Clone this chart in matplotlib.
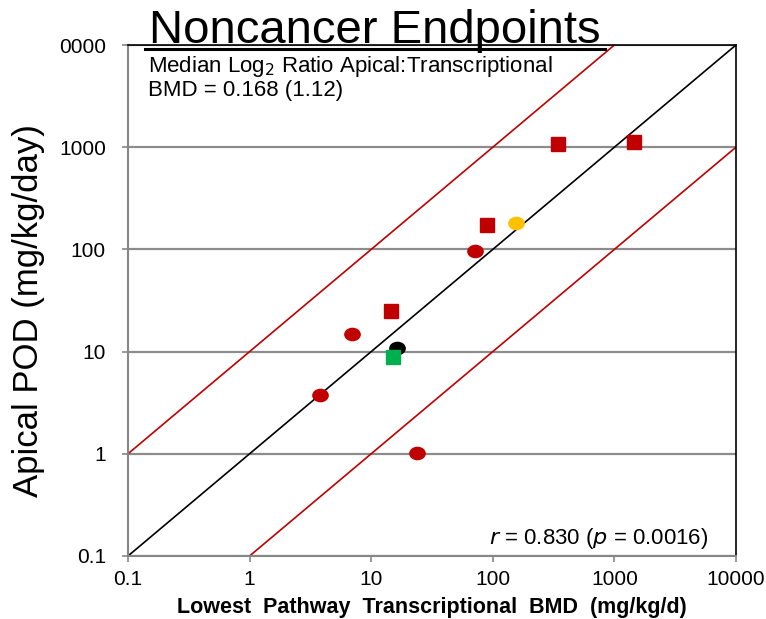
import numpy as np
import matplotlib
matplotlib.use('Agg')
import matplotlib.pyplot as plt
from matplotlib.path import Path
from matplotlib.transforms import Affine2D
from matplotlib.lines import Line2D

plt.rcParams['font.family'] = ['Liberation Sans', 'DejaVu Sans']

# transcriptional BMD (x) vs apical POD (y), mg/kg/day
red_circ_x = [3.8, 7.0, 24, 72]
red_circ_y = [3.75, 15, 1.02, 97]
red_sq_x = [14.6, 90, 345, 1450]
red_sq_y = [25, 175, 1075, 1125]
green_sq_x = [15.1]
green_sq_y = [8.85]
black_circ_x = [16.4]
black_circ_y = [10.8]
orange_circ_x = [155]
orange_circ_y = [181]

ticks = [0.1, 1, 10, 100, 1000, 10000]
xtick_labels = ['0.1', '1', '10', '100', '1000', '10000']
ytick_labels = ['0.1', '1', '10', '100', '1000', '0000']

# slightly flattened circle, like the original
ellipse = Affine2D().scale(1, 0.8).transform_path(Path.unit_circle())

fig = plt.figure(figsize=(7.66, 6.19), dpi=100)
ax = fig.add_axes([0.1671, 0.1018, 0.7937, 0.8255])
ax.set_xscale('log')
ax.set_yscale('log')
ax.set_xlim(0.1, 10000)
ax.set_ylim(0.1, 10000)

ax.yaxis.grid(True, which='major', color='#8c8c8c', lw=1.6)
ax.set_axisbelow(True)

line = np.array([0.01, 100000])
ax.plot(line, line, color='black', lw=1.2, zorder=2)
ax.plot(line, line * 10, color='#C00000', lw=1.2, zorder=2)
ax.plot(line, line / 10, color='#C00000', lw=1.2, zorder=2)

ax.plot(red_circ_x, red_circ_y, ls='none', marker=ellipse, ms=11, color='#C00000', zorder=3)
ax.plot(red_sq_x, red_sq_y, ls='none', marker='s', ms=10, color='#C00000', zorder=3)
ax.plot(black_circ_x, black_circ_y, ls='none', marker=ellipse, ms=11, color='black', zorder=3)
ax.plot(green_sq_x, green_sq_y, ls='none', marker='s', ms=10, color='#00B050', zorder=4)
ax.plot(orange_circ_x, orange_circ_y, ls='none', marker=ellipse, ms=11, color='#FFC000', zorder=3)

ax.set_xticks(ticks)
ax.set_xticklabels(xtick_labels)
ax.set_yticks(ticks)
ax.set_yticklabels(ytick_labels)
ax.minorticks_off()
ax.tick_params(axis='both', direction='out', length=4, width=1.2, color='#868686',
               labelsize=15, labelcolor='black')
ax.tick_params(axis='y', pad=12)
ax.tick_params(axis='x', pad=6)

for side in ['left', 'bottom']:
    ax.spines[side].set_color('#868686')
    ax.spines[side].set_linewidth(1.5)
for side in ['top', 'right']:
    ax.spines[side].set_color('black')
    ax.spines[side].set_linewidth(1.2)

ax.set_xlabel('Lowest  Pathway  Transcriptional  BMD  (mg/kg/d)', fontsize=15.5,
              fontweight='bold')
ax.xaxis.set_label_coords(0.5, -0.080)
ax.set_ylabel('Apical POD (mg/kg/day)', fontsize=25, va='center')
ax.yaxis.set_label_coords(-0.164, 0.481)

fig.text(375 / 766, 1 - 43 / 619, 'Noncancer Endpoints', fontsize=34,
         ha='center', va='baseline')
fig.add_artist(Line2D([145 / 766, 605 / 766], [1 - 49 / 619, 1 - 49 / 619],
                      color='black', lw=2.2))

fig.text(148 / 766, 1 - 72 / 619, r'Median Log$_2$ Ratio Apical:Transcriptional',
         fontsize=16, va='baseline')
fig.text(148 / 766, 1 - 96 / 619, 'BMD = 0.168 (1.12)', fontsize=16, va='baseline')
fig.text(708 / 766, 1 - 544 / 619, r'$r$ = 0.830 ($p$ = 0.0016)', fontsize=16,
         ha='right', va='baseline')

fig.savefig('out.png', dpi=100)
